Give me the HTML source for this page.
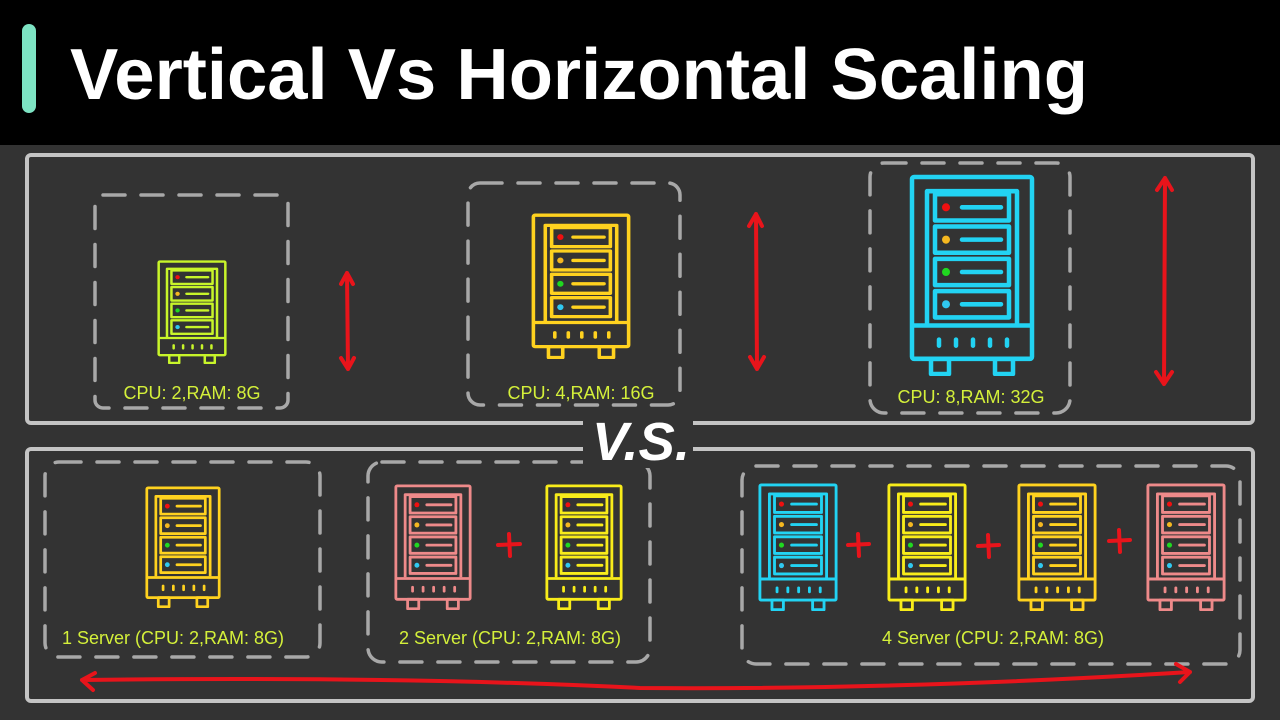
<!DOCTYPE html>
<html><head><meta charset="utf-8"><style>
html,body{margin:0;padding:0;background:#333;}
svg{display:block}
</style></head><body>
<svg width="1280" height="720" viewBox="0 0 1280 720" xmlns="http://www.w3.org/2000/svg">
<defs>
<symbol id="srv" viewBox="0 0 126 200" preserveAspectRatio="none">
<g fill="none" stroke="currentColor" stroke-width="4.5" stroke-linejoin="round">
<rect x="3" y="3" width="120" height="180" rx="2"/>
<polyline points="18,148 18,17 108,17 108,148"/>
<rect x="26" y="20" width="74" height="26"/>
<rect x="26" y="52" width="74" height="26"/>
<rect x="26" y="84" width="74" height="26"/>
<rect x="26" y="116" width="74" height="26"/>
<line x1="3" y1="150" x2="123" y2="150"/>
<rect x="22" y="183" width="18" height="15"/>
<rect x="86" y="183" width="18" height="15"/>
<g stroke-linecap="round">
<line x1="53" y1="33" x2="92" y2="33"/>
<line x1="53" y1="65" x2="92" y2="65"/>
<line x1="53" y1="97" x2="92" y2="97"/>
<line x1="53" y1="129" x2="92" y2="129"/>
<line x1="30" y1="164" x2="30" y2="170"/>
<line x1="47" y1="164" x2="47" y2="170"/>
<line x1="64" y1="164" x2="64" y2="170"/>
<line x1="81" y1="164" x2="81" y2="170"/>
<line x1="98" y1="164" x2="98" y2="170"/>
</g>
</g>
<circle cx="37" cy="33" r="4" fill="#f01010"/>
<circle cx="37" cy="65" r="4" fill="#f5b820"/>
<circle cx="37" cy="97" r="4" fill="#20d820"/>
<circle cx="37" cy="129" r="4" fill="#30c8f0"/>
</symbol>
</defs>
<rect x="0" y="0" width="1280" height="145" fill="#000"/>
<rect x="22" y="24" width="14" height="89" rx="7" fill="#7de3c3"/>
<text x="70" y="99" font-family="Liberation Sans, sans-serif" font-weight="bold" font-size="72" fill="#fff" textLength="1018" lengthAdjust="spacingAndGlyphs">Vertical Vs Horizontal Scaling</text>

<rect x="27" y="155" width="1226" height="268" rx="4" fill="none" stroke="#c4c4c4" stroke-width="4"/>
<rect x="27" y="449" width="1226" height="252" rx="4" fill="none" stroke="#c4c4c4" stroke-width="4"/>

<g fill="none" stroke="#a8a8a8" stroke-width="3.5" stroke-dasharray="22 16" stroke-linecap="round">
<rect x="95" y="195" width="193" height="213" rx="8"/>
<rect x="468" y="183" width="212" height="222" rx="12"/>
<rect x="870" y="163" width="200" height="250" rx="14"/>
<rect x="45" y="462" width="275" height="195" rx="14"/>
<rect x="368" y="462" width="282" height="200" rx="14"/>
<rect x="742" y="466" width="498" height="198" rx="14"/>
</g>

<use href="#srv" x="157" y="260" width="70" height="104" style="color:#c8f52a"/>
<use href="#srv" x="531" y="213" width="100" height="146" style="color:#ffd21f"/>
<use href="#srv" x="909" y="174" width="126" height="202" style="color:#22d3f3"/>

<use href="#srv" x="145" y="486" width="76" height="122" style="color:#ffd21f"/>
<use href="#srv" x="394" y="484" width="78" height="126" style="color:#ee8a8a"/>
<use href="#srv" x="545" y="484" width="78" height="126" style="color:#f8ec1a"/>
<use href="#srv" x="758" y="483" width="80" height="128" style="color:#22d3f3"/>
<use href="#srv" x="887" y="483" width="80" height="128" style="color:#f8ec1a"/>
<use href="#srv" x="1017" y="483" width="80" height="128" style="color:#ffd21f"/>
<use href="#srv" x="1146" y="483" width="80" height="128" style="color:#ee8a8a"/>

<g font-family="Liberation Sans, sans-serif" font-size="18" fill="#d4f03a" text-anchor="middle">
<text x="192" y="399">CPU: 2,RAM: 8G</text>
<text x="581" y="399">CPU: 4,RAM: 16G</text>
<text x="971" y="403">CPU: 8,RAM: 32G</text>
<text x="173" y="644">1 Server (CPU: 2,RAM: 8G)</text>
<text x="510" y="644">2 Server (CPU: 2,RAM: 8G)</text>
<text x="993" y="644">4 Server (CPU: 2,RAM: 8G)</text>
</g>

<g fill="none" stroke="#e8141b" stroke-width="4" stroke-linecap="round" stroke-linejoin="round">
<path d="M347 273 L348 369 M341 284 L347 273 L353 284 M341 358 L348 369 L354 358"/>
<path d="M756 214 L757 369 M749 226 L756 214 L762 226 M750 357 L757 369 L764 357"/>
<path d="M1165 178 L1164 384 M1157 190 L1165 178 L1172 190 M1156 372 L1164 384 L1172 372"/>
<path d="M82 680 Q400 676 640 688 Q900 690 1190 672 M95 673 L82 680 L93 690 M1176 664 L1190 672 L1180 682"/>
<path d="M498 545 L520 544 M509 534 L510 556"/>
<path d="M848 545 L869 544 M858 534 L859 556"/>
<path d="M978 546 L999 545 M988 535 L989 557"/>
<path d="M1109 541 L1130 540 M1119 530 L1120 552"/>
</g>

<rect x="583" y="418" width="110" height="50" fill="#333"/>
<text x="592" y="460" font-family="Liberation Sans, sans-serif" font-weight="bold" font-style="italic" font-size="54" fill="#fff" textLength="98" lengthAdjust="spacingAndGlyphs">V.S.</text>
</svg>
</body></html>
